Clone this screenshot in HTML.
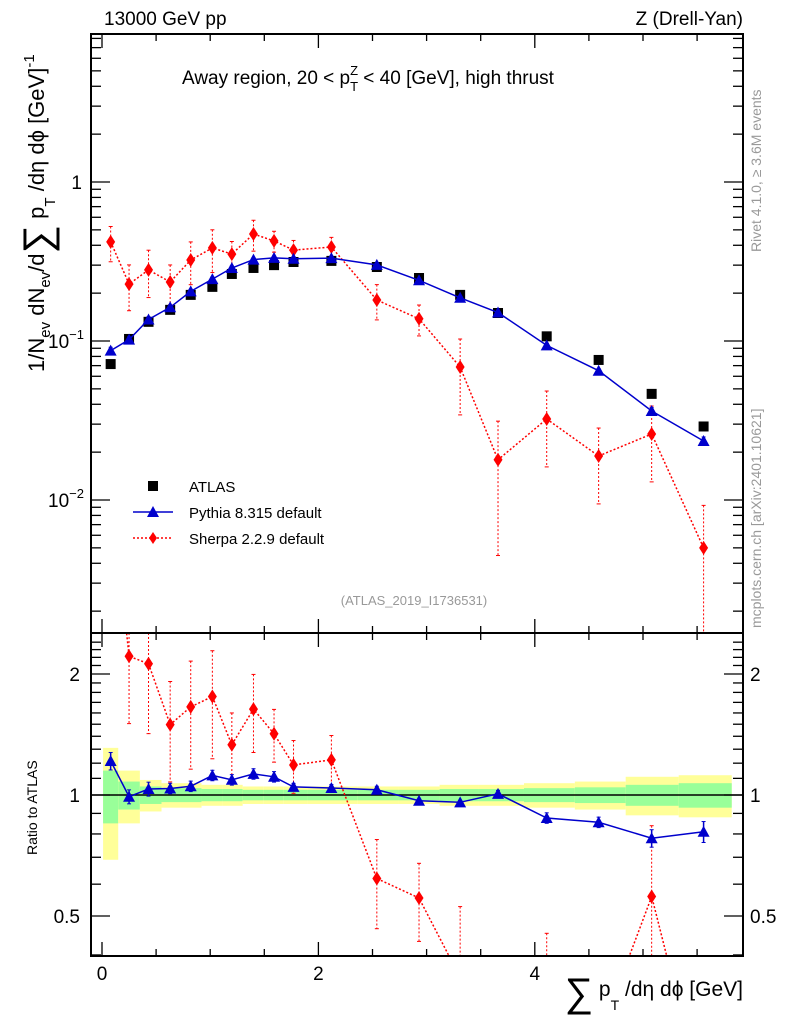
<!DOCTYPE html>
<html><head><meta charset="utf-8"><style>
html,body{margin:0;padding:0;background:#fff;overflow:hidden;}
svg{display:block;font-family:"Liberation Sans",sans-serif;}
</style></head><body>
<svg id="chart" width="786" height="1024" viewBox="0 0 786 1024" xmlns="http://www.w3.org/2000/svg">
<g id="bands"></g>
<g id="marks"></g>
<g id="axes"></g>
<text x="104" y="25" font-size="19">13000 GeV pp</text>
<text x="743" y="25" font-size="19" text-anchor="end">Z (Drell-Yan)</text>
<text x="182" y="84" font-size="19">Away region, 20 &lt; p<tspan font-size="13" dy="7">T</tspan><tspan font-size="13" dx="-8" dy="-16">Z</tspan><tspan dy="9"> &lt; 40 [GeV], high thrust</tspan></text>
<text transform="translate(761,252) rotate(-90)" font-size="14" fill="#999">Rivet 4.1.0, ≥ 3.6M events</text>
<text transform="translate(761,628) rotate(-90)" font-size="14" fill="#999">mcplots.cern.ch [arXiv:2401.10621]</text>
<text x="414" y="605" font-size="13" fill="#999" text-anchor="middle">(ATLAS_2019_I1736531)</text>
<text transform="translate(44,372) rotate(-90)" font-size="22">1/N<tspan font-size="15" dy="6">ev</tspan><tspan dy="-6"> dN</tspan><tspan font-size="15" dy="6">ev</tspan><tspan dy="-6">/d</tspan><tspan font-size="40" dy="7">∑</tspan><tspan dy="-7"> p</tspan><tspan font-size="15" dy="11">T</tspan><tspan dy="-11"> /dη dϕ  [GeV]</tspan><tspan font-size="15" dy="-10">-1</tspan></text>
<text transform="translate(37,855) rotate(-90)" font-size="14">Ratio to ATLAS</text>
<text x="743" y="996" font-size="21" text-anchor="end"><tspan font-size="40" dy="10">∑</tspan><tspan dy="-10"> p</tspan><tspan font-size="14" dy="14">T</tspan><tspan dy="-14"> /dη dϕ [GeV]</tspan></text>
<g>
<rect x="148" y="481" width="10" height="10" fill="#000"/>
<text x="189" y="492" font-size="15">ATLAS</text>
<line x1="133" y1="512" x2="173" y2="512" stroke="#00c" stroke-width="1.5"/>
<polygon points="153,506 159,517 147,517" fill="#00c"/>
<text x="189" y="518" font-size="15">Pythia 8.315 default</text>
<line x1="133" y1="538" x2="173" y2="538" stroke="#f00" stroke-width="1.5" stroke-dasharray="2,2"/>
<polygon points="153,532 157,538 153,544 149,538" fill="#f00"/>
<text x="189" y="544" font-size="15">Sherpa 2.2.9 default</text>
</g>
</svg>
<script>
const xCenters=[0.08,0.25,0.43,0.63,0.82,1.02,1.20,1.40,1.59,1.77,2.12,2.54,2.93,3.31,3.66,4.11,4.59,5.08,5.56];
const binEdges=[0.01,0.15,0.35,0.55,0.73,0.92,1.11,1.30,1.49,1.68,1.90,2.36,2.74,3.12,3.48,3.90,4.37,4.84,5.33,5.82];
const atlasValues=[0.0716,0.103,0.132,0.157,0.195,0.219,0.264,0.288,0.300,0.314,0.319,0.292,0.249,0.195,0.150,0.107,0.076,0.0465,0.029];
const pythiaValues=[0.087,0.102,0.1366,0.163,0.205,0.245,0.288,0.325,0.333,0.329,0.332,0.301,0.241,0.187,0.151,0.0938,0.065,0.0363,0.0235];
const pythiaErr=[0.05,0.04,0.04,0.03,0.03,0.03,0.03,0.03,0.03,0.02,0.02,0.02,0.01,0.01,0.02,0.03,0.03,0.05,0.06];
const sherpaValues=[0.42,0.228,0.28,0.235,0.323,0.385,0.352,0.471,0.426,0.373,0.39,0.181,0.138,0.0686,0.0179,0.0323,0.0189,0.026,0.005];
const sherpaErr=[0.25,0.32,0.33,0.28,0.3,0.3,0.2,0.22,0.15,0.15,0.15,0.25,0.22,0.5,0.75,0.5,0.5,0.5,0.85];
const yellowBand=[0.31,0.15,0.09,0.07,0.07,0.06,0.06,0.05,0.05,0.05,0.05,0.05,0.05,0.06,0.06,0.07,0.08,0.11,0.12];
const greenBand=[0.15,0.08,0.05,0.04,0.04,0.035,0.035,0.03,0.03,0.03,0.03,0.03,0.03,0.035,0.035,0.04,0.045,0.06,0.07];
const xTicks=[0,2,4];
const mainTicks=[{v:1,l:"1"},{v:0.1,l:"10"},{v:0.01,l:"10"}];
const ratioTicks=[{v:2,l:"2"},{v:1,l:"1"},{v:0.5,l:"0.5"}];

const L=91,R=743,T=34,M=633,B=956;
const NS="http://www.w3.org/2000/svg";
const X=v=>102+v*108.2;
const Y=v=>182-159*Math.log10(v);
const YR=v=>795-121*Math.log2(v);
function mk(tag,attrs,parent){const e=document.createElementNS(NS,tag);for(const k in attrs)e.setAttribute(k,attrs[k]);parent.appendChild(e);return e;}
const bands=document.getElementById('bands'),marks=document.getElementById('marks'),axes=document.getElementById('axes');
const clampR=y=>Math.max(M,Math.min(B,y));
const clampM=y=>Math.max(T,Math.min(M,y));

for(let i=0;i<xCenters.length;i++){
  const x0=X(binEdges[i]),x1=X(binEdges[i+1]);
  const ry=mk('rect',{x:x0,y:YR(1+yellowBand[i]),width:x1-x0,height:YR(1-yellowBand[i])-YR(1+yellowBand[i]),fill:'#ffff99'},bands);
  
  
  const rg=mk('rect',{x:x0,y:YR(1+greenBand[i]),width:x1-x0,height:YR(1-greenBand[i])-YR(1+greenBand[i]),fill:'#99ff99'},bands);
  
  
}
mk('line',{x1:L,x2:R,y1:YR(1),y2:YR(1),stroke:'#000','stroke-width':1.5},bands);

const defs=mk('defs',{},document.getElementById('chart'));
const c1=mk('clipPath',{id:'clipM'},defs);mk('rect',{x:L,y:T,width:R-L,height:M-T},c1);
const c2=mk('clipPath',{id:'clipR'},defs);mk('rect',{x:L,y:M,width:R-L,height:B-M},c2);

function drawSeries(vals,errs,color,dashed,shape,ratio,name){
  const yf=ratio?(v=>YR(v)):(v=>Y(v));
  const clamp=ratio?clampR:clampM;
  const g=mk('g',{},marks);
  
  
  g.setAttribute('clip-path',ratio?'url(#clipR)':'url(#clipM)');
  const v2=vals.map((v,i)=>ratio?v/atlasValues[i]:v);
  let d='';v2.forEach((v,i)=>{d+=(i?'L':'M')+X(xCenters[i]).toFixed(1)+','+yf(v).toFixed(1);});
  mk('path',{d:d,fill:'none',stroke:color,'stroke-width':1.5,'stroke-dasharray':dashed?'2,2':'none'},g);
  v2.forEach((v,i)=>{
    const x=X(xCenters[i]),y=yf(v);
    const hi=yf(v*(1+errs[i])),lo=yf(Math.max(v*(1-errs[i]),1e-5));
    mk('line',{x1:x,x2:x,y1:clamp(hi),y2:clamp(lo),stroke:color,'stroke-width':dashed?1:1.5,'stroke-dasharray':dashed?'2,2':'none'},g);
    mk('line',{x1:x-2,x2:x+2,y1:hi,y2:hi,stroke:color,'stroke-width':1},g);
    mk('line',{x1:x-2,x2:x+2,y1:lo,y2:lo,stroke:color,'stroke-width':1},g);
    let m;
    if(shape==='tri') m=mk('polygon',{points:`${x},${y-6} ${x+6},${y+5} ${x-6},${y+5}`,fill:color},g);
    else m=mk('polygon',{points:`${x},${y-7} ${x+4.5},${y} ${x},${y+7} ${x-4.5},${y}`,fill:color},g);
    
    
  });
}

atlasValues.forEach((v,i)=>{
  const r=mk('rect',{x:X(xCenters[i])-5,y:Y(v)-5,width:10,height:10,fill:'#000'},marks);
  
  
});
drawSeries(sherpaValues,sherpaErr,'#f00',true,'dia',false,'sherpa-series');
drawSeries(pythiaValues,pythiaErr,'#00c',false,'tri',false,'pythia-series');
drawSeries(sherpaValues,sherpaErr,'#f00',true,'dia',true,'sherpa-ratio');
drawSeries(pythiaValues,pythiaErr,'#00c',false,'tri',true,'pythia-ratio');

mk('rect',{x:L,y:T,width:R-L,height:M-T,fill:'none',stroke:'#000','stroke-width':2},axes);
mk('rect',{x:L,y:M,width:R-L,height:B-M,fill:'none',stroke:'#000','stroke-width':2},axes);
for(let v=0;v<=5.8;v+=0.5){
  const x=X(v);const major=Math.abs(v-Math.round(v/2)*2)<1e-6;const len=major?14:7;
  [[T,1],[M,-1],[M,1],[B,-1]].forEach(([y0,s])=>mk('line',{x1:x,x2:x,y1:y0,y2:y0+s*len,stroke:'#000','stroke-width':1.3},axes));
}
xTicks.forEach(v=>{const t=mk('text',{x:X(v),y:980,'font-size':19,'text-anchor':'middle'},axes);t.textContent=v;
 });
for(let e=-3;e<=0;e++)for(let k=1;k<=9;k++){
  const v=k*Math.pow(10,e);const y=Y(v);if(y<T||y>M)continue;const len=k===1?19:10;
  mk('line',{x1:L,x2:L+len,y1:y,y2:y,stroke:'#000','stroke-width':1.3},axes);
  mk('line',{x1:R,x2:R-len,y1:y,y2:y,stroke:'#000','stroke-width':1.3},axes);
}
mainTicks.forEach((t,i)=>{const el=mk('text',{x:i?66:82,y:Y(t.v)+7,'font-size':19,'text-anchor':i?'middle':'end'},axes);
 el.textContent=t.l;
 if(i){const s=mk('tspan',{'font-size':13,dy:-9},el);s.textContent=(i===1?'−1':'−2');}});
for(let v=0.4;v<=2.5;v+=0.1){const y=YR(v);if(y<M||y>B)continue;
  const major=[0.5,1,2].some(m=>Math.abs(m-v)<1e-6);const len=major?19:10;
  mk('line',{x1:L,x2:L+len,y1:y,y2:y,stroke:'#000','stroke-width':1.3},axes);
  mk('line',{x1:R,x2:R-len,y1:y,y2:y,stroke:'#000','stroke-width':1.3},axes);}
ratioTicks.forEach(t=>{
  const a=mk('text',{x:80,y:YR(t.v)+7,'font-size':19,'text-anchor':'end'},axes);a.textContent=t.l;
  
  const b=mk('text',{x:750,y:YR(t.v)+7,'font-size':19},axes);b.textContent=t.l;
  });
</script>
</body></html>
